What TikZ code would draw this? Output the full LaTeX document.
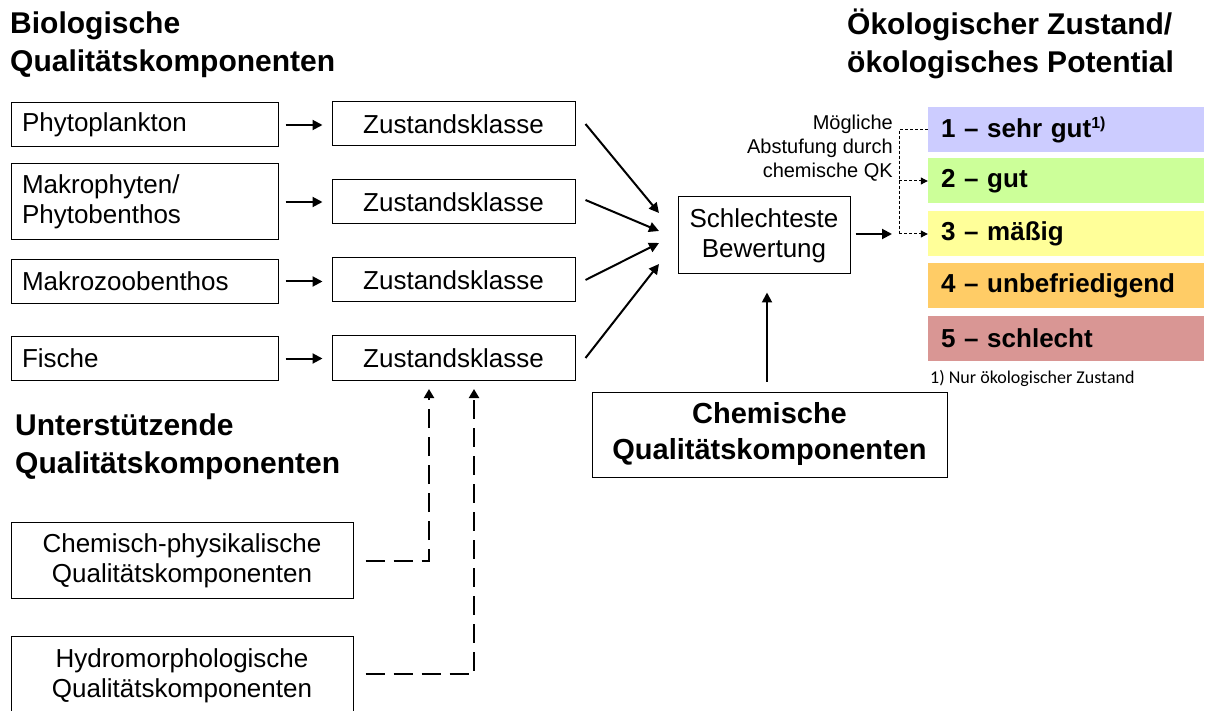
\documentclass[tikz,border=0pt]{standalone}
\usepackage{fontspec}
\setmainfont{Liberation Sans}
\newfontfamily\calfont{Carlito}
\usetikzlibrary{arrows.meta}
\definecolor{c1col}{RGB}{204,204,255}
\definecolor{c2col}{RGB}{204,255,153}
\definecolor{c3col}{RGB}{255,255,153}
\definecolor{c4col}{RGB}{255,204,102}
\definecolor{c5col}{RGB}{217,150,148}
\begin{document}
\begin{tikzpicture}[x=1pt,y=-1pt,
  box/.style={draw, line width=1pt, inner sep=0pt, align=center, font=\fontsize{26}{30}\selectfont},
  lbox/.style={box, minimum width=267pt, text width=245pt, align=left},
  zbox/.style={box, minimum width=243pt, minimum height=44pt},
  cbox/.style={inner sep=0pt, minimum width=276pt, minimum height=45pt, text width=250pt, align=left, font=\bfseries\fontsize{26}{30}\selectfont},
  title/.style={inner sep=0pt, align=left, font=\bfseries\fontsize{30}{38}\selectfont},
  arr/.style={line width=2pt, -{Triangle[length=10pt,width=10pt]}},
  sdash/.style={line width=1pt, dash pattern=on 3pt off 2pt},
  sarr/.style={sdash, -{Triangle[length=7pt,width=7pt]}},
  bdash/.style={line width=2pt, dash pattern=on 19pt off 9pt, -{Triangle[length=9pt,width=10pt]}}
]
\useasboundingbox (0,0) rectangle (1205,711);

% titles
\node[title, anchor=north west] (tbio) at (10,12) {Biologische\\Qualitätskomponenten};
\node[title, anchor=north west] (toek) at (847,9) {Ökologischer Zustand/\\ökologisches Potential};
\node[title, anchor=north west] (tunt) at (15,414) {Unterstützende\\Qualitätskomponenten};

% left column
\node[lbox, minimum height=44pt] (phyto) at (144.5,125) {Phytoplankton};
\node[lbox, minimum height=76pt] (makro) at (144.5,202) {Makrophyten/\\Phytobenthos};
\node[lbox, minimum height=44pt] (mzb) at (144.5,281.5) {Makrozoobenthos};
\node[lbox, minimum height=44pt] (fisch) at (144.5,358.5) {Fische};

% Zustandsklasse
\node[zbox] (z1) at (453.5,124) {Zustandsklasse};
\node[zbox] (z2) at (453.5,202) {Zustandsklasse};
\node[zbox] (z3) at (453.5,280) {Zustandsklasse};
\node[zbox] (z4) at (453.5,358) {Zustandsklasse};

\foreach \a/\b in {phyto/z1, makro/z2, mzb/z3, fisch/z4}
  \draw[arr, shorten <=7pt, shorten >=9pt] (\a.east) -- (\a.east -| \b.west);

% Schlechteste Bewertung
\node[box, minimum width=172pt, minimum height=77pt] (sb) at (764,235.5) {Schlechteste\\Bewertung};

\coordinate (t1) at (659,213);
\coordinate (t2) at (659,231);
\coordinate (t3) at (659,243);
\coordinate (t4) at (659,264);
\draw[arr] ([xshift=10pt]z1.east) -- (t1);
\draw[arr] ([xshift=10pt,yshift=2pt]z2.east) -- (t2);
\draw[arr] ([xshift=10pt]z3.east) -- (t3);
\draw[arr] ([xshift=10pt]z4.east) -- (t4);

% Chemische QK
\node[box, minimum width=355pt, minimum height=85pt, font=\bfseries\fontsize{29}{36}\selectfont] (chem) at (769.5,434.5) {Chemische\\Qualitätskomponenten};
\draw[arr] ([xshift=-2.5pt,yshift=10pt]chem.north) -- ([xshift=3pt,yshift=-18pt]sb.south);

% classes
\node[cbox, fill=c1col] (c1) at (1066,129.5) {1 -- sehr gut\textsuperscript{\fontsize{16}{16}\selectfont 1)}};
\node[cbox, fill=c2col] (c2) at (1066,181) {2 -- gut};
\node[cbox, fill=c3col] (c3) at (1066,234) {3 -- mäßig};
\node[cbox, fill=c4col] (c4) at (1066,286) {4 -- unbefriedigend};
\node[cbox, fill=c5col] (c5) at (1066,338.5) {5 -- schlecht};
\node[inner sep=0pt, anchor=west, font=\calfont\fontsize{18}{20}\selectfont] (fn) at (930,378) {1) Nur ökologischer Zustand};

% small text
\node[inner sep=0pt, align=right, anchor=north east, font=\fontsize{20}{24}\selectfont] (abst) at (893,115) {Mögliche\\Abstufung durch\\chemische QK};

\coordinate (j) at (892,234);
\coordinate (dbot) at (899,234);
\draw[arr] ([xshift=5pt]sb.east |- j) -- (j);
\draw[sdash] (c1.west) -| (dbot);
\draw[sarr] (dbot) -- (c3.west);
\draw[sarr] (dbot |- c2.west) -- (c2.west);

% supporting components
\node[box, minimum width=342pt, minimum height=76pt] (cp) at (182,560.5) {Chemisch-physikalische\\Qualitätskomponenten};
\node[box, minimum width=342pt, minimum height=80pt] (hm) at (182,676) {Hydromorphologische\\Qualitätskomponenten};

\coordinate (u1) at (429,389);
\coordinate (u2) at (474,389);
\draw[bdash] ([xshift=12pt]cp.east) -| (u1);
\draw[bdash] ([xshift=12pt,yshift=2pt]hm.east) -| (u2);
\end{tikzpicture}
\end{document}
